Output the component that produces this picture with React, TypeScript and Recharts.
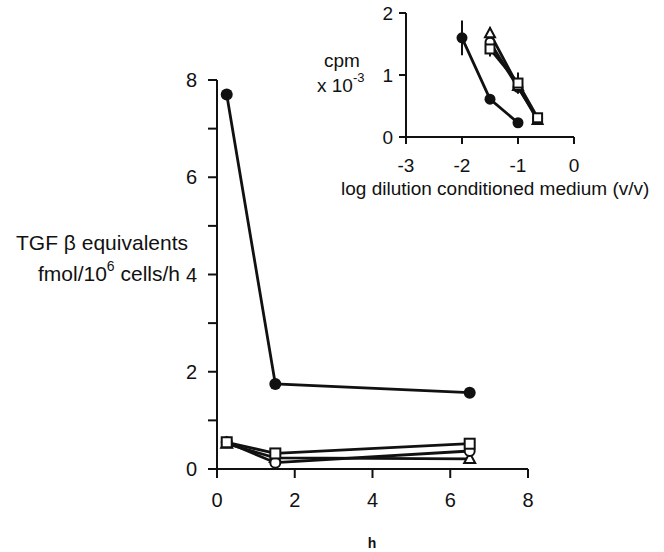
import React from 'react';
import { LineChart, Line, XAxis, YAxis, ErrorBar } from 'recharts';

// ---- Main chart data ----
const mainHours = [0.25, 1.5, 6.5];
const mainFilled = [7.7, 1.75, 1.57];
const mainSquare = [0.55, 0.32, 0.52];
const mainCircle = [0.55, 0.13, 0.37];
const mainTriangle = [0.52, 0.23, 0.21];
const mainXTicks = [0, 2, 4, 6, 8];
const mainYTicks = [0, 1, 2, 3, 4, 5, 6, 7, 8];

// ---- Inset data ----
const insetFilledX = [-2, -1.5, -1];
const insetFilledY = [1.6, 0.61, 0.23];
const insetFilledErr = [0.28, 0, 0];
const insetOpenX = [-1.5, -1, -0.65];
const insetTriangleY = [1.67, 0.82, 0.27];
const insetTriangleErr = [0.1, 0.12, 0];
const insetCircleY = [1.53, 0.8, 0.3];
const insetSquareY = [1.42, 0.87, 0.31];
const insetSquareErr = [0.12, 0.17, 0.05];
const insetXTicks = [-3, -2, -1, 0];
const insetYTicks = [0, 1, 2];

const FONT = 'Liberation Sans, Arial, Helvetica, sans-serif';
const INK = '#111';

const zip = (xs: number[], ys: number[], es?: number[]) =>
  xs.map((x, i) => ({ x, y: ys[i], err: es ? es[i] : 0 }));

const filledDot = (r: number) => (p: any) =>
  <circle key={`f${p.index}`} cx={p.cx} cy={p.cy} r={r} fill={INK} stroke="none" />;
const openCircleDot = (r: number) => (p: any) =>
  <circle key={`c${p.index}`} cx={p.cx} cy={p.cy} r={r} fill="#fff" stroke={INK} strokeWidth={2} />;
const squareDot = (s: number) => (p: any) =>
  <rect key={`s${p.index}`} x={p.cx - s} y={p.cy - s} width={2 * s} height={2 * s} fill="#fff" stroke={INK} strokeWidth={2} />;
const triangleDot = (s: number) => (p: any) =>
  <polygon key={`t${p.index}`} points={`${p.cx},${p.cy - s * 1.1} ${p.cx - s},${p.cy + s * 0.75} ${p.cx + s},${p.cy + s * 0.75}`} fill="#fff" stroke={INK} strokeWidth={2} />;

const MainYTick = (p: any) => {
  const v = p.payload.value;
  if (v % 2 !== 0) return <g />;
  return (
    <text x={p.x - 9} y={p.y + 7} textAnchor="end" fontSize={20} fontFamily={FONT} fill={INK}>{v}</text>
  );
};
const MainXTick = (p: any) => (
  <text x={p.x} y={p.y + 27} textAnchor="middle" fontSize={20} fontFamily={FONT} fill={INK}>{p.payload.value}</text>
);
const InsetYTick = (p: any) => (
  <text x={p.x - 4} y={p.y + 7} textAnchor="end" fontSize={19} fontFamily={FONT} fill={INK}>{p.payload.value}</text>
);
const InsetXTick = (p: any) => (
  <text x={p.x} y={p.y + 26} textAnchor="middle" fontSize={19} fontFamily={FONT} fill={INK}>{p.payload.value}</text>
);

export default function App() {
  const W = 664;
  const H = 552;
  const axisStyle = { stroke: INK, strokeWidth: 2 };
  return (
    <div style={{ position: 'absolute', left: 0, top: 0, width: W, height: H, background: '#fff' }}>
      <div style={{ position: 'absolute', left: 0, top: 0 }}>
        <LineChart width={W} height={H} margin={{ top: 80, left: 157, right: W - 528, bottom: H - 469 - 40 }}>
          <XAxis type="number" dataKey="x" domain={[0, 8]} ticks={mainXTicks} allowDuplicatedCategory={false}
            axisLine={axisStyle} tickLine={axisStyle} tickSize={9}
            height={40} tick={MainXTick} interval={0} />
          <YAxis type="number" domain={[0, 8]} ticks={mainYTicks}
            axisLine={axisStyle} tickLine={axisStyle} tickSize={9}
            width={60} tick={MainYTick} interval={0} />
          <Line data={zip(mainHours, mainTriangle)} dataKey="y" stroke={INK} strokeWidth={2.8} isAnimationActive={false} dot={triangleDot(5.5)} />
          <Line data={zip(mainHours, mainCircle)} dataKey="y" stroke={INK} strokeWidth={2.8} isAnimationActive={false} dot={openCircleDot(5)} />
          <Line data={zip(mainHours, mainSquare)} dataKey="y" stroke={INK} strokeWidth={2.8} isAnimationActive={false} dot={squareDot(5)} />
          <Line data={zip(mainHours, mainFilled)} dataKey="y" stroke={INK} strokeWidth={2.8} isAnimationActive={false} dot={filledDot(6)} />
        </LineChart>
      </div>
      <div style={{ position: 'absolute', left: 0, top: 0, pointerEvents: 'none' }}>
        <LineChart width={W} height={H} margin={{ top: 13, left: 366, right: W - 574, bottom: H - 137 - 40 }}>
          <XAxis type="number" dataKey="x" domain={[-3, 0]} ticks={insetXTicks} allowDuplicatedCategory={false}
            axisLine={axisStyle} tickLine={axisStyle} tickSize={7}
            height={40} tick={InsetXTick} interval={0} />
          <YAxis type="number" domain={[0, 2]} ticks={insetYTicks}
            axisLine={axisStyle} tickLine={axisStyle} tickSize={7}
            width={40} tick={InsetYTick} interval={0} />
          <Line data={zip(insetOpenX, insetCircleY)} dataKey="y" stroke={INK} strokeWidth={2.8} isAnimationActive={false} dot={openCircleDot(4.5)} />
          <Line data={zip(insetOpenX, insetTriangleY, insetTriangleErr)} dataKey="y" stroke={INK} strokeWidth={2.8} isAnimationActive={false} dot={triangleDot(5)}>
            <ErrorBar dataKey="err" direction="y" width={0} stroke={INK} strokeWidth={2} />
          </Line>
          <Line data={zip(insetOpenX, insetSquareY, insetSquareErr)} dataKey="y" stroke={INK} strokeWidth={2.8} isAnimationActive={false} dot={squareDot(4.5)}>
            <ErrorBar dataKey="err" direction="y" width={0} stroke={INK} strokeWidth={2} />
          </Line>
          <Line data={zip(insetFilledX, insetFilledY, insetFilledErr)} dataKey="y" stroke={INK} strokeWidth={2.8} isAnimationActive={false} dot={filledDot(5.5)}>
            <ErrorBar dataKey="err" direction="y" width={0} stroke={INK} strokeWidth={2} />
          </Line>
        </LineChart>
      </div>
      <svg width={W} height={H} style={{ position: 'absolute', left: 0, top: 0, pointerEvents: 'none' }} fontFamily={FONT} fill={INK}>
        <text x={188} y={250} fontSize={21} textAnchor="end">TGF β equivalents</text>
        <text x={180} y={281} fontSize={21} textAnchor="end">
          fmol/10<tspan dy={-10} fontSize={14}>6</tspan><tspan dy={10}> cells/h</tspan>
        </text>
        <text x={372} y={548} fontSize={14} fontWeight="bold" textAnchor="middle">h</text>
        <text x={342} y={67} fontSize={19} textAnchor="middle">cpm</text>
        <text x={317} y={92} fontSize={19}>
          x 10<tspan dy={-10} fontSize={13}>-3</tspan>
        </text>
        <text x={341} y={195} fontSize={19}>log dilution conditioned medium (v/v)</text>
      </svg>
    </div>
  );
}
